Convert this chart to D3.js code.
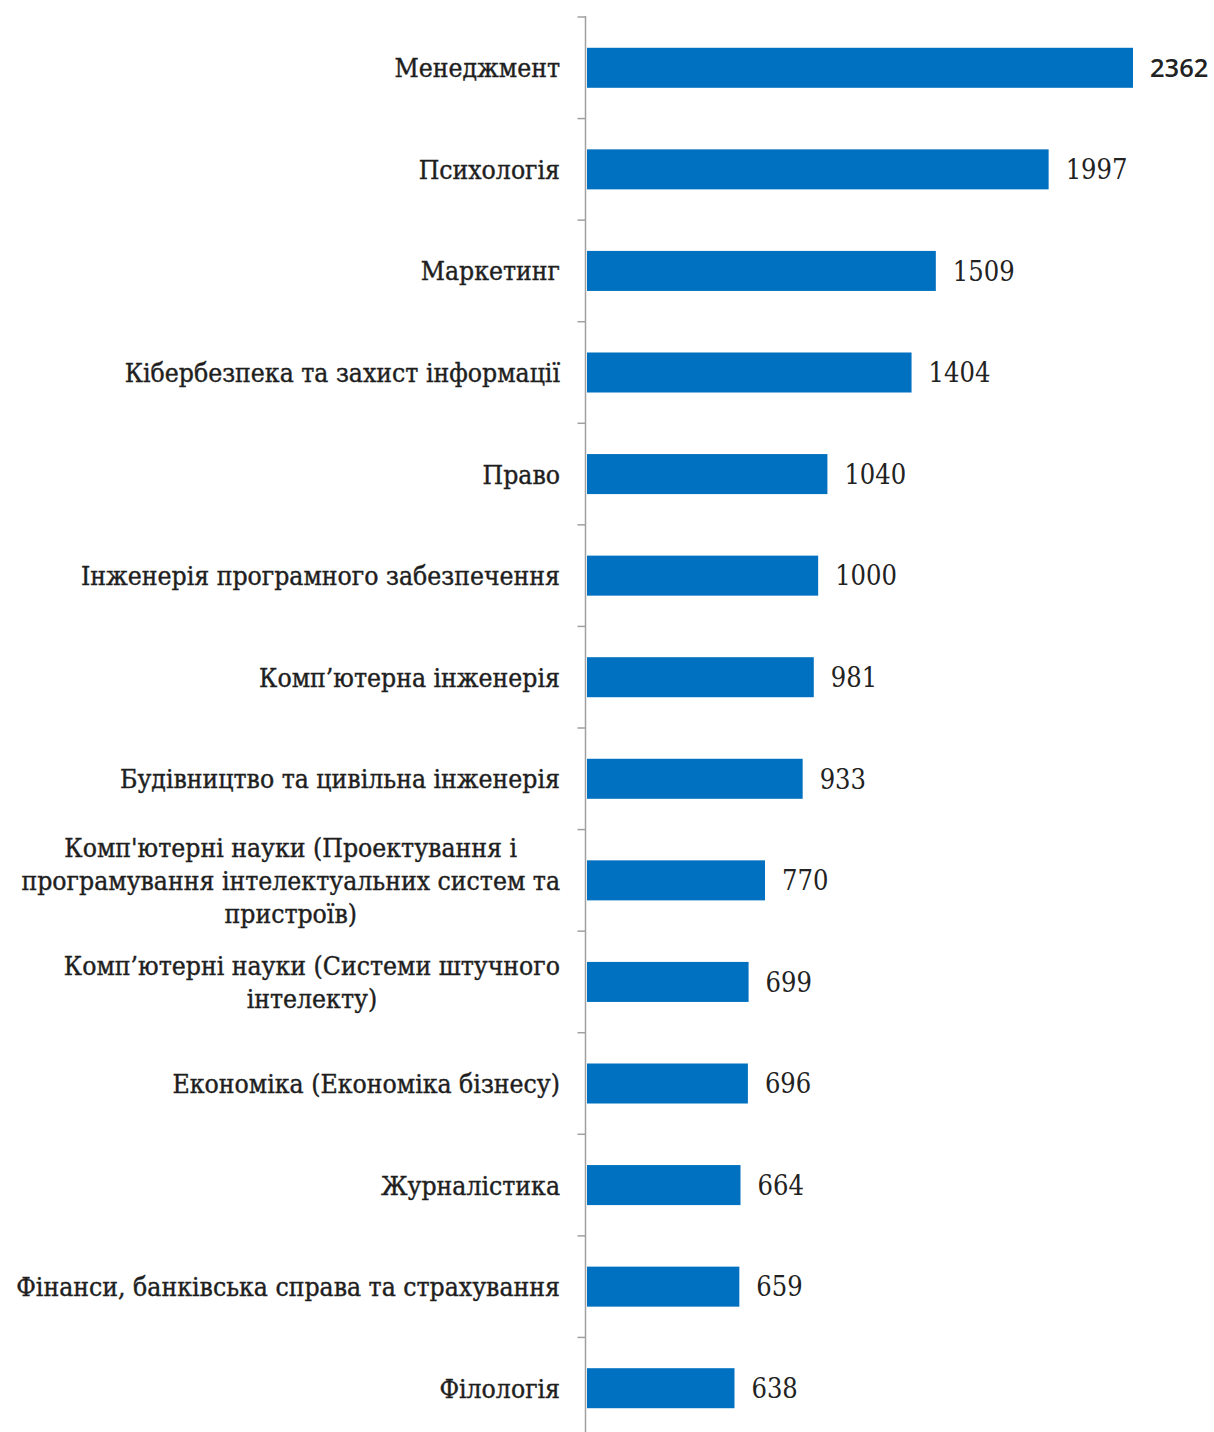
<!DOCTYPE html>
<html><head><meta charset="utf-8">
<script src="https://cdn.jsdelivr.net/npm/d3@7"></script>
<style>
html,body{margin:0;padding:0;background:#fff;}
svg{display:block;}
</style></head>
<body>
<svg id="chart" width="1214" height="1432"></svg>
<script>
const categories = [
  ["Менеджмент"],
  ["Психологія"],
  ["Маркетинг"],
  ["Кібербезпека та захист інформації"],
  ["Право"],
  ["Інженерія програмного забезпечення"],
  ["Комп’ютерна інженерія"],
  ["Будівництво та цивільна інженерія"],
  ["Комп'ютерні науки (Проектування і", "програмування інтелектуальних систем та", "пристроїв)"],
  ["Комп’ютерні науки (Системи штучного", "інтелекту)"],
  ["Економіка (Економіка бізнесу)"],
  ["Журналістика"],
  ["Фінанси, банківська справа та страхування"],
  ["Філологія"]
];
const values = [2362, 1997, 1509, 1404, 1040, 1000, 981, 933, 770, 699, 696, 664, 659, 638];

const svg = d3.select("#chart");
const axisX = 585.5, barX0 = 587;
const serif = "'DejaVu Serif Condensed', 'DejaVu Serif', serif";

const y0 = 17, y1 = 1439;
const y = d3.scaleBand().domain(d3.range(values.length)).range([y0, y1]).paddingInner(0.606).paddingOuter(0.303);
const x = d3.scaleLinear().domain([0, 2362]).range([barX0, 1133]);

const step = (y1 - y0) / values.length;
svg.append("line").attr("x1", axisX).attr("x2", axisX).attr("y1", y0 - 1).attr("y2", 1432)
  .attr("stroke", "#a0a0a0").attr("stroke-width", 1.5);
d3.range(values.length + 1).forEach(i => {
  const ty = y0 + i * step;
  if (ty > 1432) return;
  svg.append("line").attr("x1", axisX - 8).attr("x2", axisX).attr("y1", ty).attr("y2", ty)
    .attr("stroke", "#a0a0a0").attr("stroke-width", 1.5);
});

svg.selectAll("rect.bar").data(values).join("rect")
  .attr("class", "bar")
  .attr("x", barX0).attr("y", (d, i) => y(i))
  .attr("width", d => x(d) - barX0).attr("height", y.bandwidth())
  .attr("fill", "#0070c0");

svg.selectAll("text.val").data(values).join("text")
  .attr("class", "val")
  .attr("x", d => x(d) + 17)
  .attr("y", (d, i) => y(i) + y.bandwidth() / 2)
  .attr("dy", "0.36em")
  .attr("font-family", (d, i) => i === 0 ? "'Open Sans', sans-serif" : serif)
  .attr("font-weight", (d, i) => i === 0 ? 600 : 400)
  .attr("font-size", (d, i) => i === 0 ? 25.5 : 27)
  .attr("fill", "#222")
  .text(d => d);

const labelRight = 560;
const lineH = 33;
categories.forEach((lines, i) => {
  const cy = y(i) + y.bandwidth() / 2;
  const g = svg.append("g");
  const texts = lines.map((ln, k) => g.append("text")
    .attr("font-family", serif).attr("font-size", 26.3).attr("fill", "#1e1e1e")
    .attr("stroke", "#1e1e1e").attr("stroke-width", 0.4)
    .attr("y", cy + (k - (lines.length - 1) / 2) * lineH)
    .attr("dy", "0.36em")
    .text(ln));
  const widths = texts.map(t => t.node().getComputedTextLength());
  const maxW = d3.max(widths);
  const center = labelRight - maxW / 2;
  texts.forEach(t => t.attr("x", center).attr("text-anchor", "middle"));
});
</script>
</body></html>
